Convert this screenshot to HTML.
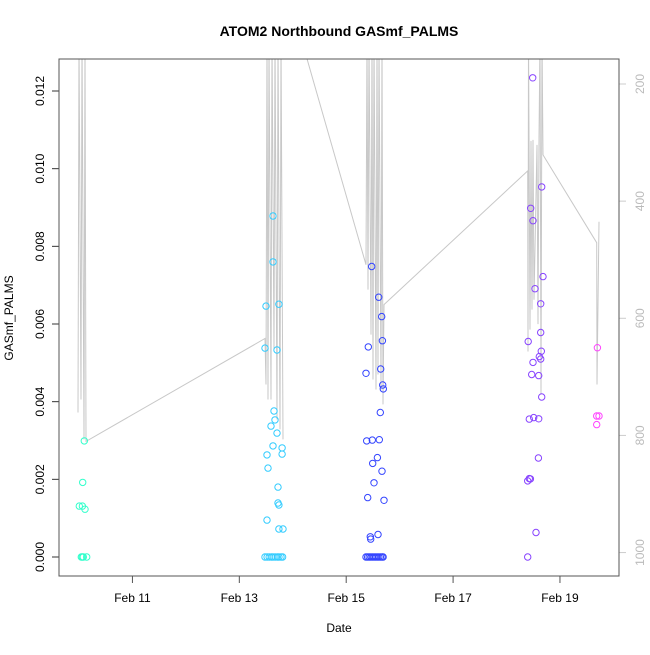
<!DOCTYPE html>
<html><head><meta charset="utf-8"><style>
html,body{margin:0;padding:0;background:#fff;}
svg text{font-family:"Liberation Sans",sans-serif;}
</style></head><body>
<svg id="chart" width="650" height="650" viewBox="0 0 650 650" xmlns="http://www.w3.org/2000/svg">
<defs><clipPath id="plotclip"><rect x="59" y="59" width="560" height="517"/></clipPath></defs>
<rect x="0" y="0" width="650" height="650" fill="#fff"/>
<text x="339" y="36" text-anchor="middle" font-size="14" font-weight="bold">ATOM2 Northbound GASmf_PALMS</text>
<text x="339" y="632" text-anchor="middle" font-size="12">Date</text>
<text transform="translate(13,318) rotate(-90)" text-anchor="middle" font-size="12">GASmf_PALMS</text>
<g id="pressure-line" clip-path="url(#plotclip)"></g>
<g id="points"></g>
<g id="axes"></g>
<rect x="59" y="59" width="560" height="517" fill="none" stroke="#555" stroke-width="1"/>
</svg>
<script>
// x: days since Feb 10 00:00
var xTickDays = [1, 3, 5, 7, 9];
var xTickLabels = ["Feb 11", "Feb 13", "Feb 15", "Feb 17", "Feb 19"];
var yTicks = [0, 0.002, 0.004, 0.006, 0.008, 0.010, 0.012];
var yTickLabels = ["0.000", "0.002", "0.004", "0.006", "0.008", "0.010", "0.012"];
var pTicks = [200, 400, 600, 800, 1000];
var pTickLabels = ["200", "400", "600", "800", "1000"];

var g1Times = [0.006, 0.063, 0.069, 0.112, 0.099, 0.062, 0.043, 0.081, 0.144];
var g1Values = [0.00131, 0.00131, 0.00192, 0.00123, 0.00299, 0, 0, 0, 0];
var g2Times = [3.481, 3.499, 3.630, 3.630, 3.740, 3.705, 3.649, 3.668, 3.593, 3.705, 3.630, 3.800, 3.800, 3.518, 3.537, 3.724, 3.724, 3.740, 3.518, 3.740, 3.817, 3.48, 3.52, 3.56, 3.60, 3.63, 3.67, 3.71, 3.74, 3.78, 3.81];
var g2Values = [0.00538, 0.00646, 0.00878, 0.0076, 0.00651, 0.00533, 0.00376, 0.00353, 0.00337, 0.00319, 0.00286, 0.00281, 0.00265, 0.00263, 0.00229, 0.0018, 0.00139, 0.00134, 0.00095, 0.00072, 0.00072, 0, 0, 0, 0, 0, 0, 0, 0, 0, 0];
var g3Times = [5.478, 5.609, 5.665, 5.677, 5.414, 5.370, 5.646, 5.683, 5.695, 5.639, 5.383, 5.489, 5.620, 5.583, 5.496, 5.670, 5.521, 5.403, 5.708, 5.451, 5.458, 5.595, 5.37, 5.40, 5.43, 5.46, 5.49, 5.52, 5.55, 5.58, 5.61, 5.64, 5.67, 5.69];
var g3Values = [0.00748, 0.00669, 0.00619, 0.00557, 0.00541, 0.00473, 0.00484, 0.00443, 0.00433, 0.00372, 0.00299, 0.00301, 0.00302, 0.00256, 0.00241, 0.00221, 0.00191, 0.00153, 0.00146, 0.00052, 0.00046, 0.00058, 0, 0, 0, 0, 0, 0, 0, 0, 0, 0, 0, 0];
var g4Times = [8.490, 8.658, 8.452, 8.496, 8.683, 8.533, 8.639, 8.639, 8.406, 8.650, 8.614, 8.639, 8.496, 8.471, 8.602, 8.658, 8.427, 8.509, 8.602, 8.596, 8.427, 8.396, 8.446, 8.552, 8.396];
var g4Values = [0.01234, 0.00953, 0.00898, 0.00866, 0.00722, 0.00691, 0.00652, 0.00578, 0.00555, 0.0053, 0.00516, 0.0051, 0.00501, 0.0047, 0.00467, 0.00412, 0.00355, 0.00359, 0.00356, 0.00255, 0.00202, 0.00196, 0.00201, 0.00063, 0];
var g5Times = [9.700, 9.687, 9.731, 9.687];
var g5Values = [0.00539, 0.00363, 0.00363, 0.00341];

// pressure line (hPa); null marks a data gap
var lineTimes = [-0.019, 0.0, 0.037, 0.056, 0.094, 0.112, 0.131, 3.481, 3.499, 3.518, 3.537, 3.555, 3.593, 3.611, 3.649, 3.668, 3.705, 3.724, 3.761, 3.780, 3.817, null, 4.266, 5.370, 5.389, 5.408, 5.427, 5.464, 5.483, 5.502, 5.520, 5.558, 5.576, 5.595, 5.614, 5.651, 5.670, 5.689, 5.707, 8.396, 8.402, 8.411, 8.439, 8.458, 8.477, 8.496, 8.514, 8.570, 8.589, 8.608, 8.627, 8.645, 8.664, 8.683, 9.687, 9.693, 9.731];
var linePressures = [760.8, 120, 738.6, 120, 806.8, 120, 810.2, 634.6, 713, 120, 738.6, 120, 738.6, 120, 653.4, 120, 772.7, 120, 789.7, 120, 806.8, null, 157, 508.5, 120, 551.1, 120, 627.8, 120, 704.5, 120, 721.6, 120, 696, 120, 721.6, 120, 747.1, 576.7, 348.3, 656.8, 120, 619.3, 297.2, 585.2, 295.4, 568.2, 304, 610, 293.7, 120, 730.1, 120, 321, 471, 713, 435.2];

var groupColors = ["#33ffcc", "#33ccff", "#3344ff", "#8844ff", "#ff44ff"];

function xScale(t){ return 79 + t * 53.44; }
function yScale(v){ return 557 - v * 38833; }
function pScale(p){ return 84 + (p - 200) * 0.5857; }

var NS = "http://www.w3.org/2000/svg";
function mk(tag, attrs, parent){ var e = document.createElementNS(NS, tag); for (var k in attrs) e.setAttribute(k, attrs[k]); parent.appendChild(e); return e; }

var axes = document.getElementById('axes');
xTickDays.forEach(function(d, i){
  var x = xScale(d);
  var t = mk('line', {x1:x, x2:x, y1:576, y2:583, stroke:'#555'}, axes);
  
  
  var l = mk('text', {x:x, y:602, 'text-anchor':'middle', 'font-size':12}, axes);
  l.textContent = xTickLabels[i];
  
  
});
yTicks.forEach(function(v, i){
  var y = yScale(v);
  var t = mk('line', {x1:52, x2:59, y1:y, y2:y, stroke:'#333'}, axes);
  
  
  var l = mk('text', {transform:'translate(44,'+y+') rotate(-90)', 'text-anchor':'middle', 'font-size':12}, axes);
  l.textContent = yTickLabels[i];
  
  
});
pTicks.forEach(function(p, i){
  var y = pScale(p);
  var t = mk('line', {x1:619, x2:626, y1:y, y2:y, stroke:'#ccc'}, axes);
  
  
  var l = mk('text', {transform:'translate(644,'+y+') rotate(-90)', 'text-anchor':'middle', 'font-size':12, fill:'#bbb'}, axes);
  l.textContent = pTickLabels[i];
  
  
});

var lineG = document.getElementById('pressure-line');
var d = '', pen = false;
for (var i = 0; i < lineTimes.length; i++){
  if (lineTimes[i] === null){ pen = false; continue; }
  d += (pen ? 'L' : 'M') + xScale(lineTimes[i]).toFixed(1) + ' ' + pScale(linePressures[i]).toFixed(1) + ' ';
  pen = true;
}
var path = mk('path', {d:d, fill:'none', stroke:'#c8c8c8', 'stroke-width':1}, lineG);



var pts = document.getElementById('points');
var groups = [[g1Times, g1Values], [g2Times, g2Values], [g3Times, g3Values], [g4Times, g4Values], [g5Times, g5Values]];
groups.forEach(function(g, gi){
  for (var j = 0; j < g[0].length; j++){
    var c = mk('circle', {cx:xScale(g[0][j]).toFixed(1), cy:yScale(g[1][j]).toFixed(1), r:3.2, fill:'none', stroke:groupColors[gi], 'stroke-width':1}, pts);
    
    
  }
});
</script>
</body></html>
